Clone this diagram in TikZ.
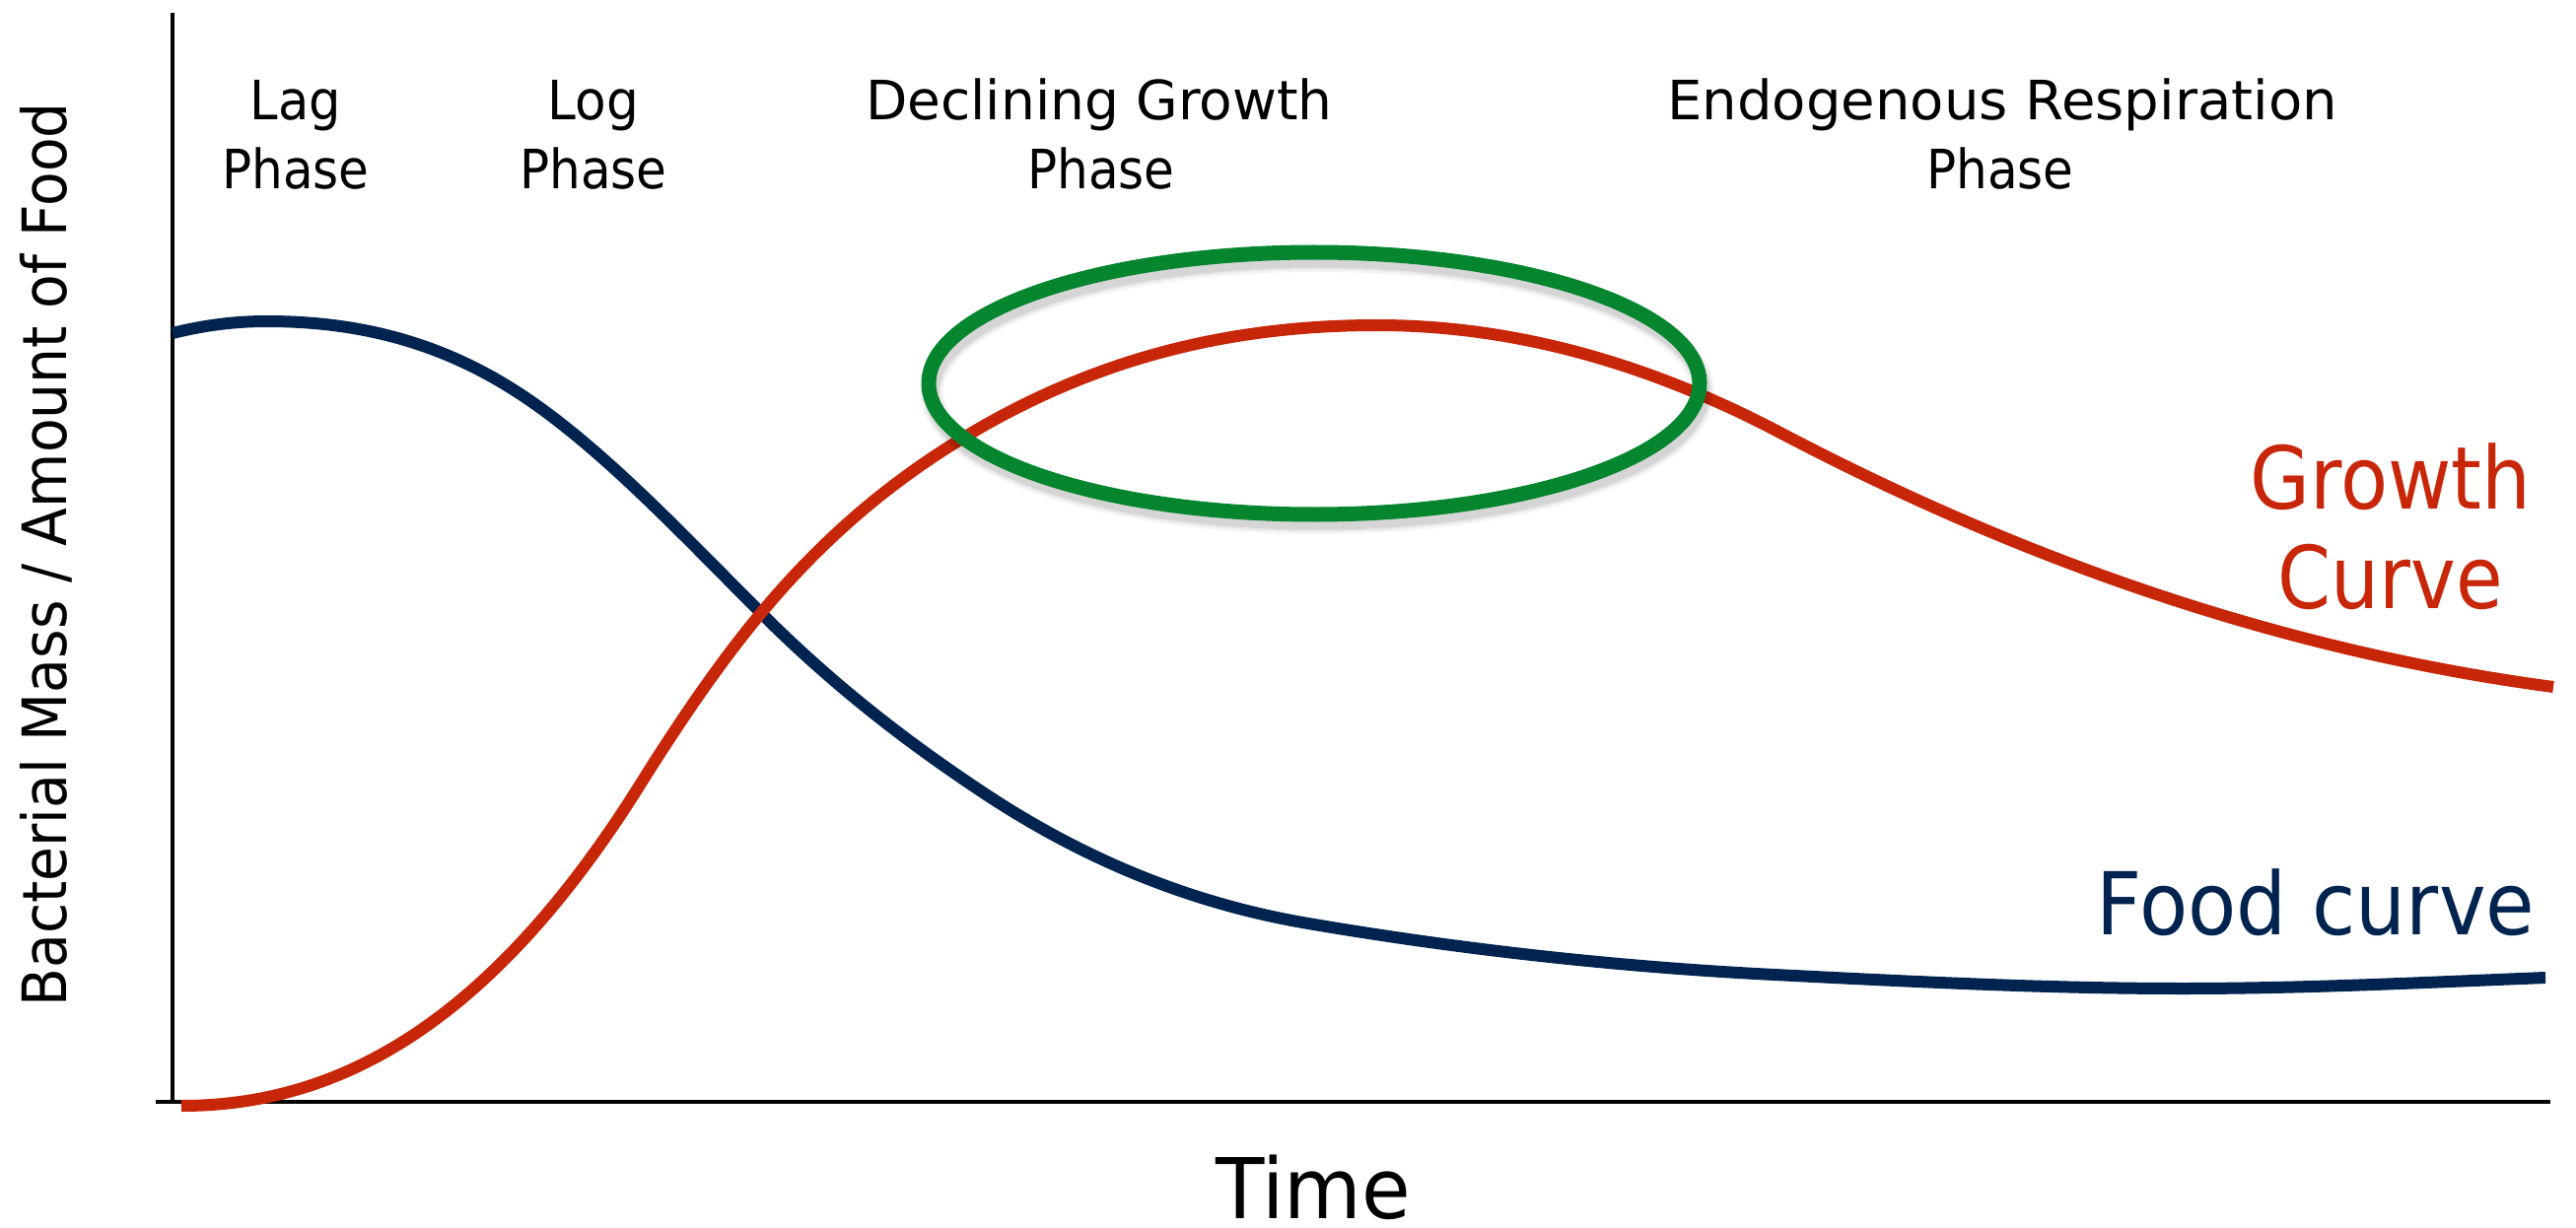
\documentclass[tikz,border=0pt]{standalone}
\usepackage{fontspec}
\setmainfont{DejaVu Sans}
\usepackage{graphicx}
\usetikzlibrary{shapes.geometric}
\definecolor{navy}{RGB}{0,35,80}
\definecolor{rust}{RGB}{200,38,8}
\definecolor{leaf}{RGB}{4,133,46}
\newcommand\hsq[2]{\scalebox{#1}[1]{#2}}
\begin{document}
\begin{tikzpicture}[x=1pt,y=-1pt,
  lbl/.style={inner sep=0pt, anchor=base},
  phase/.style={lbl, font=\fontsize{55}{66}\selectfont},
  big/.style={lbl, font=\fontsize{88}{100}\selectfont},
  axis/.style={line width=4.5pt, black},
  curve/.style={line width=12pt, line cap=butt, line join=round}]
\useasboundingbox (0,0) rectangle (2613,1246);

% axes
\coordinate (yt) at (175,13);
\coordinate (yb) at (175,1120);
\coordinate (xl) at (158,1118);
\coordinate (xr) at (2587,1118);
\draw[axis, line width=4pt] (yt) -- (yb);
\draw[axis] (xl) -- (xr);

% food curve
\coordinate (n0) at (175,338);
\coordinate (n8) at (2582,992);
\draw[curve, navy] (n0)
  .. controls (206.7,330.1) and (238.3,326) .. (270,326)
  .. controls (352.3,326) and (434.7,342) .. (517,393)
  .. controls (602,445.7) and (687,537) .. (772,622)
  .. controls (848,698) and (924,755.8) .. (1000,806)
  .. controls (1109,877.9) and (1218,918.5) .. (1327,937)
  .. controls (1484.7,963.8) and (1642.3,981.1) .. (1800,989)
  .. controls (1938,995.9) and (2076,1003) .. (2214,1003)
  .. controls (2336.7,1003) and (2459.3,996.9) .. (n8);

% growth curve
\coordinate (r0) at (184,1122);
\coordinate (r6) at (2590,697);
\draw[curve, rust] (r0)
  .. controls (339.3,1122) and (494.7,1043.5) .. (650,795)
  .. controls (690.7,729.9) and (731.3,670.8) .. (772,622)
  .. controls (838.3,542.4) and (904.7,489.1) .. (971,448)
  .. controls (1113,360) and (1255,330) .. (1397,330)
  .. controls (1531.3,330) and (1665.7,366.2) .. (1800,436)
  .. controls (2063.3,575) and (2326.7,662) .. (r6);

% highlight ellipse with soft shadow
\foreach \w/\o in {24/0.04,19/0.06,15/0.08}{
  \draw[line width=\w pt, black, opacity=\o] (1336,397) ellipse [x radius=391pt, y radius=133pt];
}
\node[draw=leaf, line width=15pt, ellipse, minimum width=782pt, minimum height=266pt, inner sep=0pt] (hl) at (1333,389) {};

% phase labels
\node[phase] (lag1) at (300,121.7) {\hsq{0.93}{Lag}};
\node[phase] (lag2) at (300,191.7) {\hsq{0.91}{Phase}};
\node[phase] (log1) at (602,121.7) {\hsq{0.94}{Log}};
\node[phase] (log2) at (602,191.7) {\hsq{0.91}{Phase}};
\node[phase] (dec1) at (1115,121.7) {\hsq{1.0}{Declining Growth}};
\node[phase] (dec2) at (1117,191.7) {\hsq{0.91}{Phase}};
\node[phase] (end1) at (2031,121.7) {\hsq{1.02}{Endogenous Respiration}};
\node[phase] (end2) at (2029,191.7) {\hsq{0.91}{Phase}};

% curve labels
\node[big, text=rust] (gc1) at (2425,516.7) {\hsq{0.895}{Growth}};
\node[big, text=rust] (gc2) at (2425,617) {\hsq{0.88}{Curve}};
\node[big, text=navy] (fc) at (2349,948) {\hsq{0.915}{Food curve}};

% axis labels
\node[lbl, font=\fontsize{85}{100}\selectfont] (time) at (1332,1236) {\hsq{0.95}{Time}};
\node[lbl, rotate=90, font=\fontsize{62}{74}\selectfont] (ylab) at (67,563) {\hsq{0.915}{Bacterial Mass / Amount of Food}};
\end{tikzpicture}
\end{document}
